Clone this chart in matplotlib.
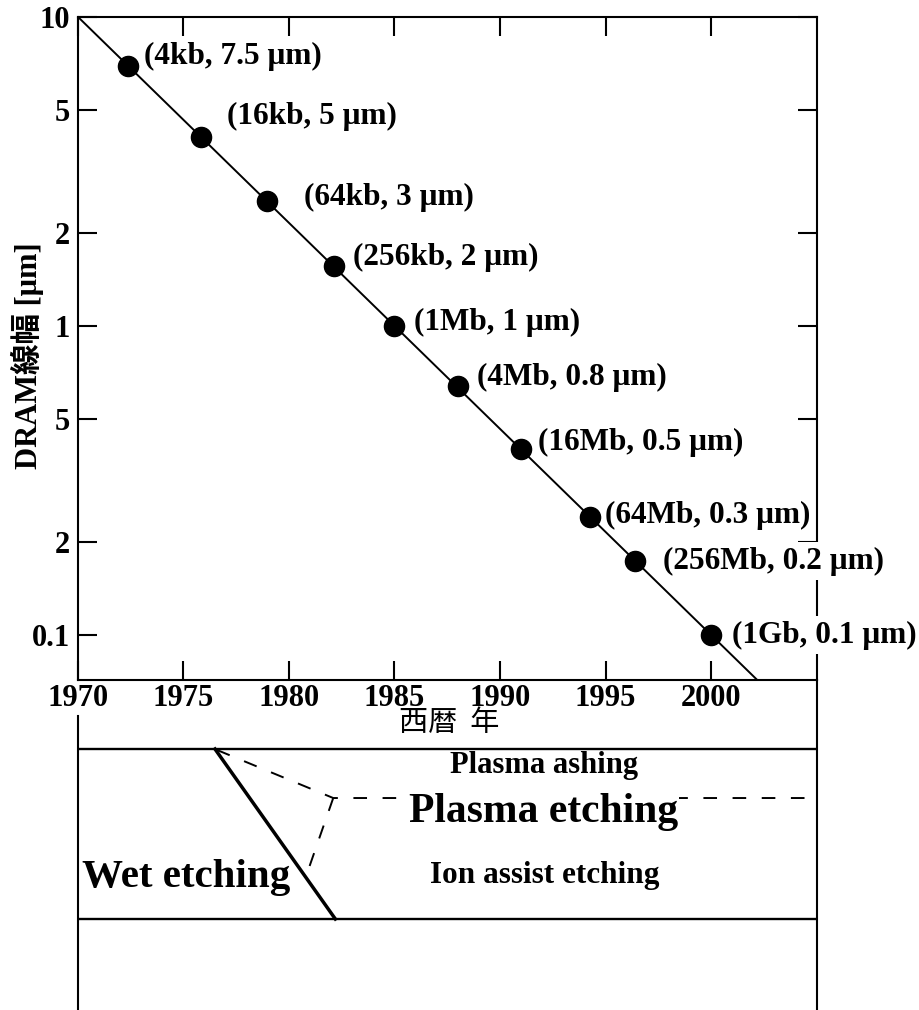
import matplotlib
matplotlib.use('Agg')
import matplotlib.pyplot as plt
from matplotlib.ticker import FixedLocator, FixedFormatter, NullLocator

# DRAM generations (year, line width)
years = [1972.4, 1975.85, 1978.95, 1982.15, 1985.0, 1988.0, 1991.0, 1994.25, 1996.4, 2000.0]
width_um = [6.94, 4.09, 2.53, 1.56, 1.0, 0.638, 0.399, 0.240, 0.1735, 0.1]
labels = ['(4kb, 7.5 μm)', '(16kb, 5 μm)', '(64kb, 3 μm)', '(256kb, 2 μm)',
          '(1Mb, 1 μm)', '(4Mb, 0.8 μm)', '(16Mb, 0.5 μm)', '(64Mb, 0.3 μm)',
          '(256Mb, 0.2 μm)', '(1Gb, 0.1 μm)']

# trend line end points
trend_years = [1970, 2005]
trend_um = [10, 0.0464]

xticks = [1970, 1975, 1980, 1985, 1990, 1995, 2000]
yticks = [10, 5, 2, 1, 0.5, 0.2, 0.1]
ytick_labels = ['10', '5', '2', '1', '5', '2', '0.1']

# etching process diagram (years)
wet_years = [1976.5, 1982.2]
ashing_years = [1976.6, 1982.1, 2005]
ion_years = [1982.1, 1980.8]

# label offsets in pixels (dx, dy)
offsets = [(16, 9), (26, 20), (37, 4), (19, 9), (20, 3),
           (19, 9), (17, 7), (15, 2), (28, 0), (21, 0)]

plt.rcParams['font.family'] = ['Liberation Serif', 'Noto Sans CJK JP']
plt.rcParams['font.weight'] = 'bold'

fig = plt.figure(figsize=(9.2, 10.1), dpi=100)
ax = fig.add_axes([0.0845, 0.3267, 0.8033, 0.6568])
ax.set_yscale('log')

ax.plot(trend_years, trend_um, color='black', lw=1.4, zorder=4)
ax.plot(years, width_um, 'o', color='black', ms=14.5, zorder=5)

for yr, v, lab, (dx, dy) in zip(years, width_um, labels, offsets):
    ax.annotate(lab, (yr, v), xytext=(dx, dy), textcoords='offset pixels',
                ha='left', va='center', fontsize=22.5, fontweight='bold',
                zorder=3, annotation_clip=False,
                bbox=dict(facecolor='white', edgecolor='none', pad=3))

ax.set_xlim(1970, 2005)
ax.set_ylim(0.0715, 10)
ax.yaxis.set_major_locator(FixedLocator(yticks))
ax.yaxis.set_major_formatter(FixedFormatter(ytick_labels))
ax.yaxis.set_minor_locator(NullLocator())
ax.set_xticks(xticks)
ax.tick_params(direction='in', length=13.5, width=1.5, top=True, right=True,
               labelsize=22)
ax.tick_params(axis='x', pad=3)
ax.tick_params(axis='y', pad=5.5)
for s in ax.spines.values():
    s.set_linewidth(1.5)

fig.text(27.5 / 920, 1 - 356 / 1010, 'DRAM線幅 [μm]', rotation=90,
         ha='center', va='center', fontsize=22, fontweight='bold')
fig.text(449 / 920, 1 - 723 / 1010, '西暦  年', ha='center', va='center',
         fontsize=21, fontweight='normal', family=['Noto Sans CJK JP'])

# lower diagram, y in pixels below the x axis
ax2 = fig.add_axes([0.0845, 0, 0.8033, 0.3267])
ax2.set_xlim(1970, 2005)
ax2.set_ylim(330, 0)
ax2.patch.set_alpha(0)
ax2.set_xticks([])
ax2.set_yticks([])
ax2.spines['top'].set_visible(False)
ax2.spines['bottom'].set_visible(False)
ax2.spines['left'].set_bounds(36, 330)
for s in ax2.spines.values():
    s.set_linewidth(1.5)

band_top, band_bottom, mid, ion_end = 69, 239, 118, 197
ax2.plot([1970, 2005], [band_top, band_top], color='black', lw=1.7)
ax2.plot([1970, 2005], [band_bottom, band_bottom], color='black', lw=1.7)
ax2.plot(wet_years, [band_top, band_bottom], color='black', lw=2.5)
ax2.plot(ashing_years, [band_top + 1, mid, mid], color='black', lw=1.4,
         ls=(0, (7, 8)))
ax2.plot(ion_years, [mid, ion_end], color='black', lw=1.4, ls=(0, (7, 8)))

ax2.text(1992.1, 93, 'Plasma ashing', ha='center', va='baseline', fontsize=22)
ax2.text(1992.05, 142, 'Plasma etching', ha='center', va='baseline', fontsize=30,
         zorder=3, bbox=dict(facecolor='white', edgecolor='none', pad=1))
ax2.text(1992.1, 203, 'Ion assist etching', ha='center', va='baseline',
         fontsize=22.5)
ax2.text(1970.2, 207, 'Wet etching', ha='left', va='baseline', fontsize=29.5)

fig.savefig('out.png', dpi=100)
